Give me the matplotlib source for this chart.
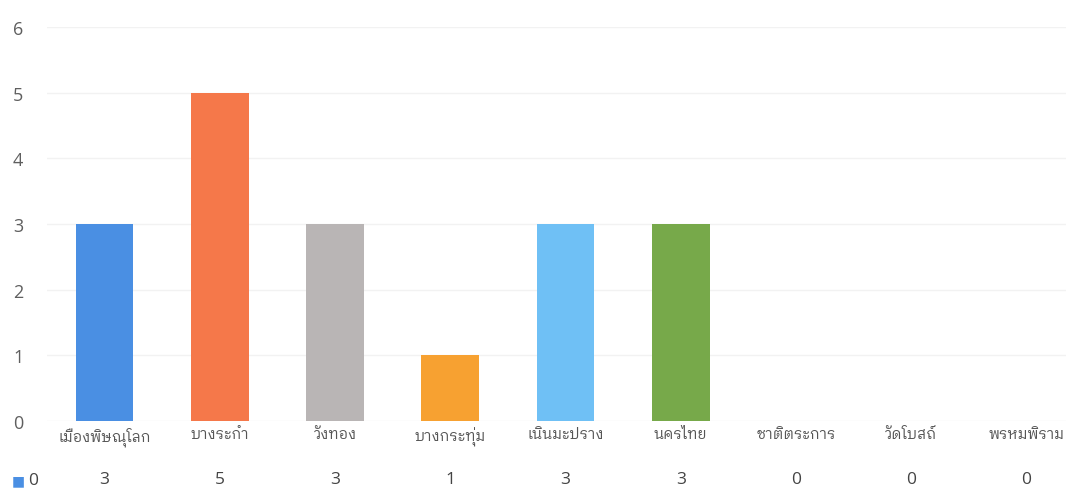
import numpy as np
import matplotlib
matplotlib.use("Agg")
import matplotlib.pyplot as plt

categories = ["เมืองพิษณุโลก", "บางระกำ", "วังทอง", "บางกระทุ่ม", "เนินมะปราง",
              "นครไทย", "ชาติตระการ", "วัดโบสถ์", "พรหมพิราม"]
values = [3, 5, 3, 1, 3, 3, 0, 0, 0]
colors = ["#4a8fe3", "#f5784a", "#b9b5b5", "#f7a131", "#6fc0f5",
          "#77a94a", "#4a8fe3", "#4a8fe3", "#4a8fe3"]
series_name = "0"
y_ticks = [0, 1, 2, 3, 4, 5, 6]

thai_family = ["IBM Plex Sans Thai Looped", "DejaVu Sans"]
num_family = ["Open Sans", "DejaVu Sans"]
plt.rcParams['font.family'] = num_family

fig = plt.figure(figsize=(10.66, 4.89), dpi=100)
ax = fig.add_axes([0.044, 0.137, 0.973, 0.806])

x = np.arange(len(categories))
ax.bar(x, values, width=0.5, color=colors, zorder=3)
ax.set_xlim(-0.5, len(categories) - 0.5)
ax.set_ylim(0, 6)
ax.set_yticks(y_ticks)
ax.set_yticklabels([str(t) for t in y_ticks], fontsize=13, color="#5f5f5f")
ax.tick_params(axis='y', length=0, pad=17)
ax.set_xticks(x)
ax.set_xticklabels(categories, fontsize=10.5, color="#555555", family=thai_family)
ax.tick_params(axis='x', length=0, pad=4)
ax.grid(axis='y', color="#f2f2f2", linewidth=1, zorder=0)
for s in ax.spines.values():
    s.set_visible(False)

# แถวตารางข้อมูลใต้กราฟ
trans = ax.get_xaxis_transform()
for xi, v in zip(x, values):
    ax.text(xi, -0.148, str(v), transform=trans, ha='center', va='center',
            fontsize=12.5, color="#444444")
fig.text(0.011, 0.016, "■", fontsize=10, color="#4a8fe3", va='center',
         family=["DejaVu Sans"])
fig.text(0.026, 0.016, series_name, fontsize=12.5, color="#444444", va='center')

fig.savefig("out.png", dpi=100)
